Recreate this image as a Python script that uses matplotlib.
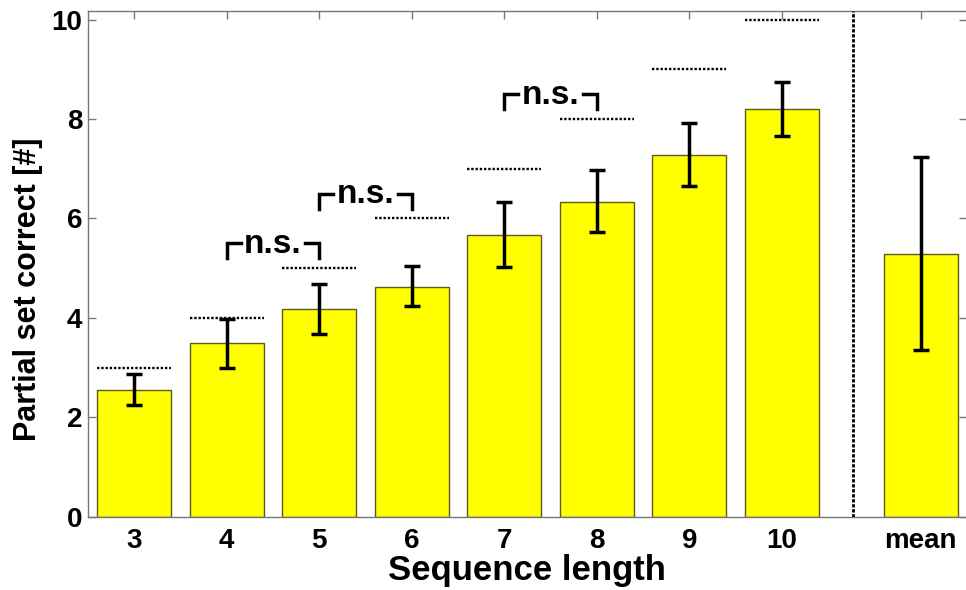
import matplotlib
matplotlib.use("Agg")
import matplotlib.pyplot as plt
import numpy as np

categories = ["3", "4", "5", "6", "7", "8", "9", "10", "mean"]
means = [2.56, 3.49, 4.17, 4.63, 5.67, 6.34, 7.28, 8.20, 5.29]
err_low = [2.25, 2.99, 3.67, 4.23, 5.02, 5.72, 6.66, 7.66, 3.36]
err_high = [2.87, 3.98, 4.68, 5.05, 6.33, 6.97, 7.92, 8.75, 7.23]
max_possible = [3, 4, 5, 6, 7, 8, 9, 10]
ns_pairs = [(1, 2), (2, 3), (4, 5)]   # indices of bars compared
ns_heights = [5.5, 6.5, 8.5]

plt.rcParams['font.family'] = ['Liberation Sans', 'DejaVu Sans']
plt.rcParams['font.weight'] = 'bold'

fig = plt.figure(figsize=(9.66, 5.90), dpi=100)
ax = fig.add_axes([0.091, 0.124, 0.91, 0.858])

pos = list(np.arange(1, 9)) + [9.5]
width = 0.8
ax.bar(pos, means, width=width, color='#ffff00', edgecolor='#5c5c1e', linewidth=1.0, zorder=2)
yerr = [np.array(means) - np.array(err_low), np.array(err_high) - np.array(means)]
ax.errorbar(pos, means, yerr=yerr, fmt='none', ecolor='black', elinewidth=2.5,
            capsize=5.5, capthick=2.5, zorder=3)

for p, m in zip(pos[:8], max_possible):
    ax.plot([p - width / 2, p + width / 2], [m, m], color='black', linestyle=(0, (1, 0.8)),
            linewidth=1.7, zorder=3)

ax.axvline(8.77, color='black', linestyle=(0, (1.2, 0.6)), linewidth=2.0, zorder=3)

for (a, b), h in zip(ns_pairs, ns_heights):
    xa, xb = pos[a], pos[b]
    xm = (xa + xb) / 2
    gap = 0.35
    ax.plot([xa, xa, xm - gap], [h - 0.3, h, h], color='black', linewidth=2.5, zorder=3,
            solid_joinstyle='miter')
    ax.plot([xm + gap, xb, xb], [h, h, h - 0.3], color='black', linewidth=2.5, zorder=3,
            solid_joinstyle='miter')
    ax.text(xm, h - 0.02, "n.s.", ha='center', va='center', fontsize=24, fontweight='bold')

ax.set_xlim(0.5, 10.0)
ax.set_ylim(0, 10.18)
ax.set_xticks(pos)
ax.set_xticklabels(categories)
ax.set_yticks([0, 2, 4, 6, 8, 10])
ax.tick_params(direction='in', length=6, color='#777777', width=1, labelsize=20,
               top=True, right=True)
ax.tick_params(axis='y', pad=4)
ax.tick_params(axis='x', pad=8)
for s in ax.spines.values():
    s.set_color('#777777')
    s.set_linewidth(1)
ax.set_xlabel("Sequence length", fontsize=25, fontweight='bold', labelpad=0)
ax.set_ylabel("Partial set correct [#]", fontsize=22, fontweight='bold', labelpad=5)
ax.yaxis.set_label_coords(-0.051, 0.45)

fig.savefig("out.png", dpi=100)
